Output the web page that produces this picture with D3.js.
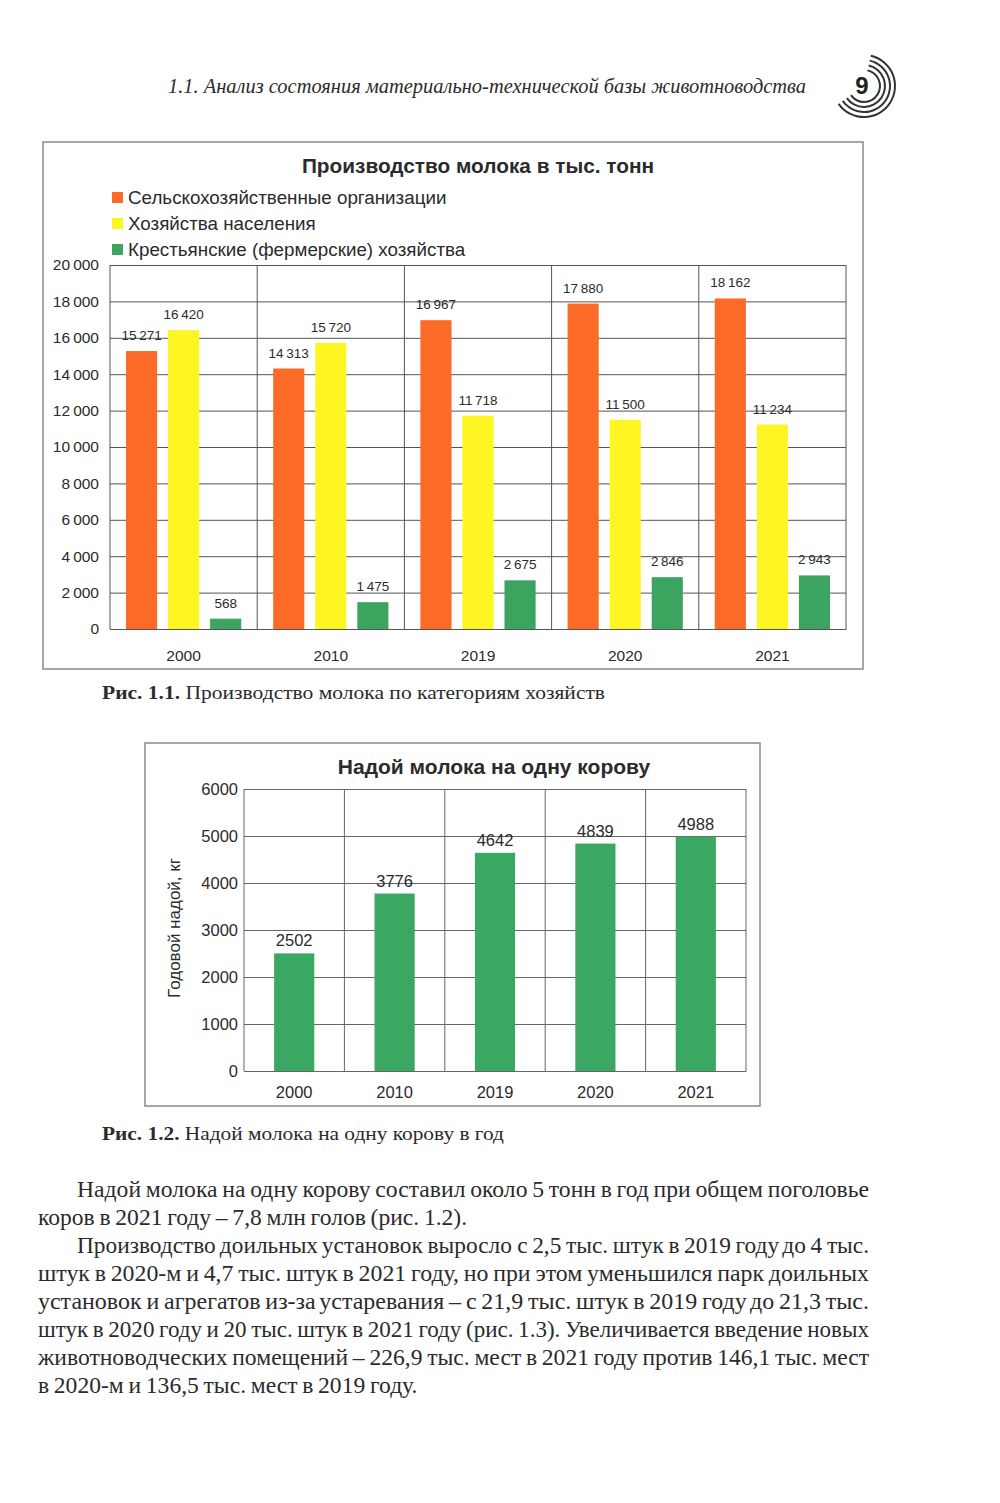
<!DOCTYPE html>
<html>
<head>
<meta charset="utf-8">
<script src="https://cdn.jsdelivr.net/npm/d3@7"></script>
<style>
  body { margin: 0; background: #fff; }
  svg { display: block; }
</style>
</head>
<body>
<svg id="page"></svg>
<script>
// data
let years = ['2000', '2010', '2019', '2020', '2021'];
let seriesNames = ['Сельскохозяйственные организации', 'Хозяйства населения', 'Крестьянские (фермерские) хозяйства'];
let agroOrgs = [15271, 14313, 16967, 17880, 18162];
let households = [16420, 15720, 11718, 11500, 11234];
let farms = [568, 1475, 2675, 2846, 2943];
let seriesColors = ['#fb6a26', '#fff522', '#3ba45e'];
let ticksProd = [0, 2000, 4000, 6000, 8000, 10000, 12000, 14000, 16000, 18000, 20000];

let yieldPerCow = [2502, 3776, 4642, 4839, 4988];
let ticksYield = [0, 1000, 2000, 3000, 4000, 5000, 6000];

let w = 1000;
let h = 1503;
let sans = 'Liberation Sans, Arial, sans-serif';
let serif = 'Liberation Serif, Times New Roman, serif';
let ink = '#2b2b2b';

let svg = d3.select('#page').attr('width', w).attr('height', h);
svg.append('rect').attr('width', w).attr('height', h).attr('fill', '#fff');

let fmt = d3.formatLocale({decimal: ',', thousands: '\u2009', grouping: [3], currency: ['', '']}).format(',');

// ---------- page header ----------
let drawHeader = () => {
  svg.append('text')
    .attr('x', 168).attr('y', 93)
    .attr('font-family', serif).attr('font-style', 'italic')
    .attr('font-size', 21).attr('fill', ink)
    .attr('textLength', 638).attr('lengthAdjust', 'spacingAndGlyphs')
    .text('1.1. Анализ состояния материально-технической базы животноводства');

  let logo = svg.append('g').attr('transform', 'translate(864,86)');
  let arc = d3.arc();
  [16, 21, 26, 31].forEach(r => {
    logo.append('path')
      .attr('d', arc({innerRadius: r - 1, outerRadius: r + 1, startAngle: 0.22, endAngle: 4.1}))
      .attr('fill', '#333');
  });
  logo.append('text')
    .attr('x', -2).attr('y', 8)
    .attr('text-anchor', 'middle')
    .attr('font-family', sans).attr('font-weight', 'bold')
    .attr('font-size', 24).attr('fill', '#222')
    .text('9');
};

// ---------- chart 1: production ----------
let drawProduction = () => {
  let g = svg.append('g');
  g.append('rect')
    .attr('x', 43).attr('y', 142).attr('width', 820).attr('height', 527)
    .attr('fill', 'none').attr('stroke', '#8a8a8a').attr('stroke-width', 1.5);

  g.append('text')
    .attr('x', 478).attr('y', 173).attr('text-anchor', 'middle')
    .attr('font-family', sans).attr('font-weight', 'bold').attr('font-size', 20.8)
    .attr('fill', ink).text('Производство молока в тыс. тонн');

  // legend
  seriesNames.forEach((name, i) => {
    let ly = 198 + i * 26;
    g.append('rect')
      .attr('x', 112).attr('y', ly - 6).attr('width', 11).attr('height', 11)
      .attr('fill', seriesColors[i]);
    g.append('text')
      .attr('x', 128).attr('y', ly + 6)
      .attr('font-family', sans).attr('font-size', 18.8).attr('fill', ink)
      .text(name);
  });

  let left = 110, right = 846, top = 265, bottom = 629;
  let x0 = d3.scaleBand().domain(years).range([left, right]);
  let x1 = d3.scaleBand().domain([0, 1, 2]).range([0, x0.bandwidth()])
    .paddingInner(0.26).paddingOuter(0.38);
  let y = d3.scaleLinear().domain([0, 20000]).range([bottom, top]);

  // horizontal grid + y labels
  let yAxis = d3.axisLeft(y).tickValues(ticksProd).tickFormat(fmt)
    .tickSize(-(right - left)).tickPadding(11);
  let ya = g.append('g').attr('transform', 'translate(' + left + ',0)').call(yAxis);
  ya.select('.domain').remove();
  ya.selectAll('line').attr('stroke', '#555').attr('stroke-width', 1);
  ya.selectAll('text').attr('font-family', sans).attr('font-size', 15.5).attr('fill', ink);

  // vertical separators between year groups
  let edges = years.map(d => x0(d)).concat([right]);
  g.selectAll('.vgrid').data(edges).enter().append('line')
    .attr('x1', d => d).attr('x2', d => d)
    .attr('y1', top).attr('y2', bottom)
    .attr('stroke', '#555').attr('stroke-width', 1);

  let series = [agroOrgs, households, farms];
  series.forEach((vals, si) => {
    g.selectAll('.bar' + si).data(vals).enter().append('rect')
      .attr('x', (d, i) => x0(years[i]) + x1(si))
      .attr('width', x1.bandwidth())
      .attr('y', d => y(d))
      .attr('height', d => bottom - y(d))
      .attr('fill', seriesColors[si]);
    g.selectAll('.lab' + si).data(vals).enter().append('text')
      .attr('x', (d, i) => x0(years[i]) + x1(si) + x1.bandwidth() / 2)
      .attr('y', d => y(d) - 11)
      .attr('text-anchor', 'middle')
      .attr('font-family', sans).attr('font-size', 13.5).attr('fill', ink)
      .text(d => fmt(d));
  });

  // x labels
  let xAxis = d3.axisBottom(x0).tickSize(0).tickPadding(21);
  let xa = g.append('g').attr('transform', 'translate(0,' + bottom + ')').call(xAxis);
  xa.select('.domain').attr('stroke', '#555');
  xa.selectAll('text').attr('font-family', sans).attr('font-size', 15.5).attr('fill', ink);

  caption(102, 699, 'Рис. 1.1.', 'Производство молока по категориям хозяйств', 503);
};

// ---------- chart 2: yield per cow ----------
let drawYield = () => {
  let g = svg.append('g');
  g.append('rect')
    .attr('x', 145).attr('y', 743).attr('width', 615).attr('height', 363)
    .attr('fill', 'none').attr('stroke', '#8a8a8a').attr('stroke-width', 1.5);

  g.append('text')
    .attr('x', 494).attr('y', 774).attr('text-anchor', 'middle')
    .attr('font-family', sans).attr('font-weight', 'bold').attr('font-size', 21)
    .attr('fill', ink).text('Надой молока на одну корову');

  let left = 244, right = 746, top = 789, bottom = 1071;
  let x = d3.scaleBand().domain(years).range([left, right])
    .paddingInner(0.6).paddingOuter(0.3);
  let y = d3.scaleLinear().domain([0, 6000]).range([bottom, top]);

  let yAxis = d3.axisLeft(y).tickValues(ticksYield).tickFormat(d3.format('d'))
    .tickSize(-(right - left)).tickPadding(6);
  let ya = g.append('g').attr('transform', 'translate(' + left + ',0)').call(yAxis);
  ya.select('.domain').remove();
  ya.selectAll('line').attr('stroke', '#666').attr('stroke-width', 1);
  ya.selectAll('text').attr('font-family', sans).attr('font-size', 16.5).attr('fill', ink);

  let gap = (x.step() - x.bandwidth()) / 2;
  let edges = years.map(d => x(d) - gap).concat([right]);
  g.selectAll('.vgrid').data(edges).enter().append('line')
    .attr('x1', d => d).attr('x2', d => d)
    .attr('y1', top).attr('y2', bottom)
    .attr('stroke', '#666').attr('stroke-width', 1);

  g.selectAll('.bar').data(yieldPerCow).enter().append('rect')
    .attr('x', (d, i) => x(years[i]))
    .attr('width', x.bandwidth())
    .attr('y', d => y(d))
    .attr('height', d => bottom - y(d))
    .attr('fill', '#3aa862');

  g.selectAll('.lab').data(yieldPerCow).enter().append('text')
    .attr('x', (d, i) => x(years[i]) + x.bandwidth() / 2)
    .attr('y', d => y(d) - 7)
    .attr('text-anchor', 'middle')
    .attr('font-family', sans).attr('font-size', 16.5).attr('fill', ink)
    .text(d => d);

  let xAxis = d3.axisBottom(x).tickSize(0).tickPadding(15);
  let xa = g.append('g').attr('transform', 'translate(0,' + bottom + ')').call(xAxis);
  xa.select('.domain').attr('stroke', '#666');
  xa.selectAll('text').attr('font-family', sans).attr('font-size', 16.5).attr('fill', ink);

  g.append('text')
    .attr('transform', 'translate(180,928) rotate(-90)')
    .attr('text-anchor', 'middle')
    .attr('font-family', sans).attr('font-size', 17).attr('fill', ink)
    .text('Годовой надой, кг');

  caption(102, 1140, 'Рис. 1.2.', 'Надой молока на одну корову в год', 402);
};

let caption = (cx, cy, bold, rest, len) => {
  let t = svg.append('text')
    .attr('x', cx).attr('y', cy)
    .attr('font-family', serif).attr('font-size', 18.5).attr('fill', ink)
    .attr('textLength', len).attr('lengthAdjust', 'spacingAndGlyphs');
  t.append('tspan').attr('font-weight', 'bold').text(bold + ' ');
  t.append('tspan').text(rest);
};

// ---------- body text ----------
let bodyLines = [
  {t: 'Надой молока на одну корову составил около 5 тонн в год при общем поголовье', indent: true},
  {t: 'коров в 2021 году – 7,8 млн голов (рис. 1.2).', last: true},
  {t: 'Производство доильных установок выросло с 2,5 тыс. штук в 2019 году до 4 тыс.', indent: true},
  {t: 'штук в 2020-м и 4,7 тыс. штук в 2021 году, но при этом уменьшился парк доильных'},
  {t: 'установок и агрегатов из-за устаревания – с 21,9 тыс. штук в 2019 году до 21,3 тыс.'},
  {t: 'штук в 2020 году и 20 тыс. штук в 2021 году (рис. 1.3). Увеличивается введение новых'},
  {t: 'животноводческих помещений – 226,9 тыс. мест в 2021 году против 146,1 тыс. мест'},
  {t: 'в 2020-м и 136,5 тыс. мест в 2019 году.', last: true}
];

let drawBody = () => {
  let fs = 22.5, lineH = 28, y0 = 1197, xl = 38, xr = 869;
  let gapW = fs * 0.2;
  let rows = bodyLines.map((ln, i) => {
    let start = ln.indent ? 77 : xl;
    let words = ln.t.split(' ');
    let g = svg.append('g');
    let txt = g.append('text').attr('y', y0 + i * lineH)
      .attr('font-family', serif).attr('font-size', fs).attr('fill', ink);
    let spans = words.map(wd => txt.append('tspan').text(wd));
    let widths = spans.map(s => s.node().getComputedTextLength());
    let natural = d3.sum(widths) + gapW * (words.length - 1);
    return {ln, start, g, spans, widths, natural, scale: (xr - start) / natural};
  });
  // last lines of paragraphs take the average squeeze of the full lines
  let avgScale = d3.mean(rows.filter(r => !r.ln.last), r => r.scale);
  rows.forEach(r => {
    let s = r.ln.last ? avgScale : r.scale;
    let cx = 0;
    r.spans.forEach((sp, k) => {
      sp.attr('x', cx);
      cx += r.widths[k] + gapW;
    });
    r.g.attr('transform', 'translate(' + r.start + ',0) scale(' + s + ',1)');
  });
};

drawHeader();
drawProduction();
drawYield();
drawBody();
</script>
</body>
</html>
